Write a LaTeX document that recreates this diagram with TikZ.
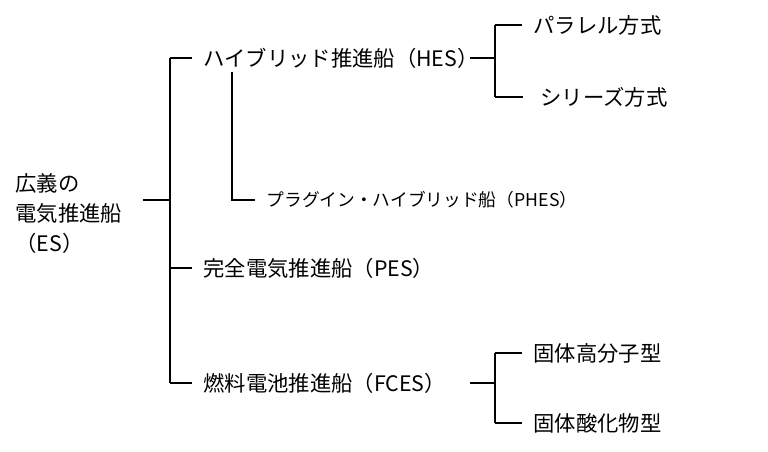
\documentclass[tikz,border=0pt]{standalone}
\usepackage{fontspec}
\setmainfont{Noto Sans CJK JP}
\usetikzlibrary{positioning}

\begin{document}
\begin{tikzpicture}[x=0.75pt,y=-0.75pt,
    every node/.style={inner sep=0pt, anchor=west, font=\fontsize{16}{18}\selectfont},
    small/.style={font=\fontsize{13.3}{15}\selectfont},
    every path/.style={line width=0.8pt}]
    \useasboundingbox (0,0) rectangle (768,451);

    % root
    \node (es1) at (15,183) {広義の};
    \node (es2) at (15,213) {電気推進船};
    \node (es3) at (15,243) {（ES）};
    \coordinate (r) at (143,200);
    \coordinate (t) at (170,58);
    \coordinate (m) at (170,200);
    \coordinate (p) at (170,268);
    \coordinate (f) at (170,383);

    % second level
    \node (hes) at (203,58) {ハイブリッド推進船（HES）};
    \node (pes) at (203,268) {完全電気推進船（PES）};
    \node (fces) at (203,383) {燃料電池推進船（FCES）};
    \node[small] (phes) at (266,200) {プラグイン・ハイブリッド船（PHES）};
    \coordinate (h1) at (232,72);
    \coordinate (h2) at (232,200);

    \draw (r) -- (m);
    \draw (t) -- (f);
    \draw (t) -- ([xshift=-8pt]hes.west);
    \draw (p) -- ([xshift=-8pt]pes.west);
    \draw (f) -- ([xshift=-8pt]fces.west);
    \draw (h1) -- (h2) -- ([xshift=-8pt]phes.west);

    % third level
    \node (par) at (533,25) {パラレル方式};
    \node (ser) at (540,97) {シリーズ方式};
    \node (pem) at (533,353) {固体高分子型};
    \node (sof) at (533,423) {固体酸化物型};
    \coordinate (a1) at (470,58);
    \coordinate (a2) at (495,58);
    \coordinate (b1) at (470,383);
    \coordinate (b2) at (495,383);

    \draw (a1) -- (a2);
    \draw (par -| a2) -- (ser -| a2);
    \draw (par -| a2) -- ([xshift=-8pt]par.west);
    \draw (ser -| a2) -- ([xshift=-13pt]ser.west);
    \draw (b1) -- (b2);
    \draw (pem -| b2) -- (sof -| b2);
    \draw (pem -| b2) -- ([xshift=-8pt]pem.west);
    \draw (sof -| b2) -- ([xshift=-8pt]sof.west);
\end{tikzpicture}
\end{document}
